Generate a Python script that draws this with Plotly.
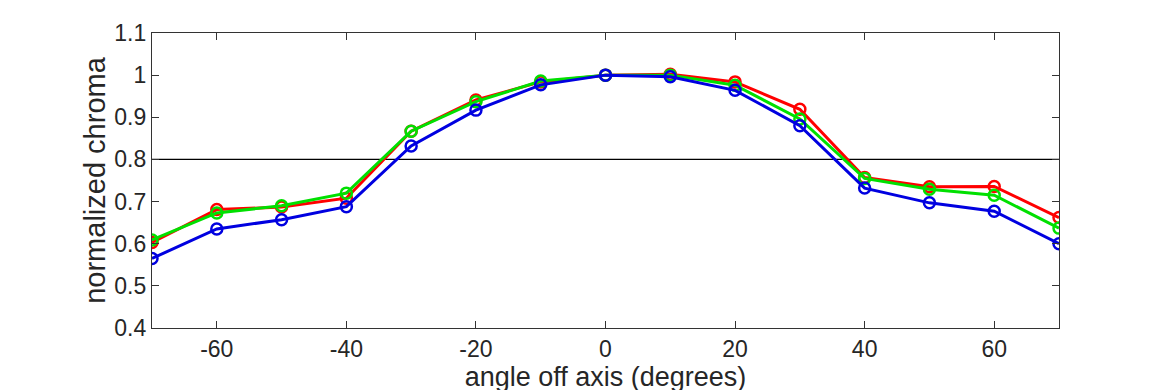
import plotly.graph_objects as go

angles = [-70, -60, -50, -40, -30, -20, -10, 0, 10, 20, 30, 40, 50, 60, 70]
red = [0.603, 0.681, 0.687, 0.708, 0.867, 0.941, 0.984, 1.0, 1.002, 0.984, 0.919, 0.757, 0.735, 0.736, 0.662]
green = [0.609, 0.673, 0.690, 0.720, 0.867, 0.937, 0.986, 1.0, 1.0, 0.976, 0.896, 0.755, 0.729, 0.715, 0.637]
blue = [0.565, 0.635, 0.657, 0.688, 0.832, 0.917, 0.977, 1.0, 0.996, 0.964, 0.880, 0.732, 0.697, 0.677, 0.600]
threshold = 0.8

xticks = [-60, -40, -20, 0, 20, 40, 60]
xtick_text = ["-60", "-40", "-20", "0", "20", "40", "60"]
yticks = [0.4, 0.5, 0.6, 0.7, 0.8, 0.9, 1.0, 1.1]
ytick_text = ["0.4", "0.5", "0.6", "0.7", "0.8", "0.9", "1", "1.1"]

font = "Liberation Sans, Arial, Helvetica, sans-serif"

fig = go.Figure()
fig.add_trace(go.Scatter(x=[-70, 70], y=[threshold, threshold], mode="lines",
                         line=dict(color="black", width=1.3), showlegend=False, hoverinfo="skip"))
for vals, col in [(red, "#ff0000"), (green, "#00e000"), (blue, "#0000e0")]:
    fig.add_trace(go.Scatter(x=angles, y=vals, mode="lines+markers",
                             line=dict(color=col, width=3),
                             marker=dict(symbol="circle-open", size=11, color=col, line=dict(width=2.5, color=col)),
                             showlegend=False))

fig.update_layout(
    width=1170, height=390,
    margin=dict(l=144, r=119, t=21, b=70),
    paper_bgcolor="white", plot_bgcolor="white",
    font=dict(family=font, size=23, color="#262626"),
    xaxis=dict(range=[-70, 70], tickvals=xticks, ticktext=xtick_text, ticks="inside", ticklen=7, tickcolor="#333",
               showline=True, linecolor="#333", linewidth=1.3, mirror="ticks", showgrid=False, zeroline=False,
               title=dict(text="angle off axis (degrees)", font=dict(size=27), standoff=1)),
    yaxis=dict(range=[0.4, 1.1], tickvals=yticks, ticktext=ytick_text, ticks="inside", ticklen=7, tickcolor="#333",
               showline=True, linecolor="#333", linewidth=1.3, mirror="ticks", showgrid=False, zeroline=False,
               title=dict(text="normalized chroma", font=dict(size=29), standoff=0)),
)
fig.write_html("out.html")
